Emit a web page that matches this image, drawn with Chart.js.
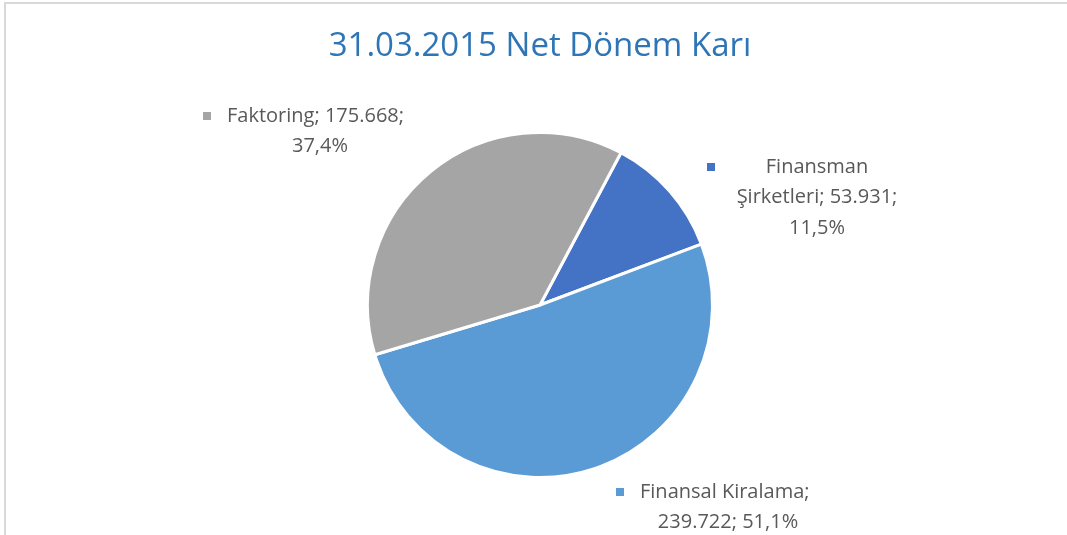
<!DOCTYPE html>
<html>
<head>
    <title>31.03.2015 Net Dönem Karı</title>
    <script src="https://cdn.jsdelivr.net/npm/chart.js"></script>
    <style>
        html, body { margin: 0; padding: 0; background: #fff; overflow: hidden; }
        .frame { position: absolute; left: 4px; top: 2px; width: 1100px; height: 600px;
                 border-top: 2px solid #d9d9d9; border-left: 2px solid #d9d9d9; }
        .wrap { position: absolute; left: 0; top: 0; width: 1067px; height: 535px; }
    </style>
</head>
<body>
    <div class="frame"></div>
    <div class="wrap">
        <canvas id="pieChart" width="1067" height="535"></canvas>
    </div>

    <script>
        // Veriler
        const chartTitle = '31.03.2015 Net Dönem Karı';
        const categories = ['Finansman Şirketleri', 'Finansal Kiralama', 'Faktoring'];
        const values = [53931, 239722, 175668];
        const valueLabels = ['53.931', '239.722', '175.668'];
        const percentLabels = ['11,5%', '51,1%', '37,4%'];
        const colors = ['#4472C4', '#5B9BD5', '#A5A5A5'];

        const FONT = '"Open Sans", "Liberation Sans", sans-serif';

        // Etiket yerleşimi (Excel "best fit" benzeri)
        const labelLayout = [
            { lines: ['Finansman', 'Şirketleri; ' + valueLabels[0] + ';', percentLabels[0]], cx: 817, y: 167, marker: [707, 163] },
            { lines: [categories[1] + ';', valueLabels[1] + '; ' + percentLabels[1]], cx: 728, y: 492, marker: [616, 488] },
            { lines: [categories[2] + '; ' + valueLabels[2] + ';', percentLabels[2]], cx: 320, y: 116, marker: [203, 112] }
        ];

        const titlePlugin = {
            id: 'titleAndLabels',
            afterDraw(chart) {
                const c = chart.ctx;
                c.save();
                c.fillStyle = '#2E75B6';
                c.font = '33px ' + FONT;
                c.textAlign = 'center';
                c.textBaseline = 'middle';
                c.fillText(chartTitle, 540, 47);

                c.font = '20px ' + FONT;
                c.fillStyle = '#595959';
                labelLayout.forEach((l, i) => {
                    l.lines.forEach((t, j) => {
                        let x = l.cx;
                        if (j === 0 && i !== 0) {
                            c.textAlign = 'left';
                            x = l.marker[0] + 24;
                        } else {
                            c.textAlign = 'center';
                        }
                        c.fillText(t, x, l.y + j * 30.5);
                    });
                    c.fillStyle = colors[i];
                    c.fillRect(l.marker[0], l.marker[1], 8, 8);
                    c.fillStyle = '#595959';
                });
                c.restore();
            }
        };

        const ctx = document.getElementById('pieChart').getContext('2d');
        new Chart(ctx, {
            type: 'pie',
            data: {
                labels: categories,
                datasets: [{
                    data: values,
                    backgroundColor: colors,
                    borderColor: '#ffffff',
                    borderWidth: 3
                }]
            },
            options: {
                responsive: false,
                animation: false,
                rotation: 28,
                layout: { padding: { top: 131, bottom: 56, left: 366, right: 353 } },
                plugins: {
                    legend: { display: false },
                    tooltip: { enabled: false },
                    title: { display: false }
                }
            },
            plugins: [titlePlugin]
        });
    </script>
</body>
</html>
